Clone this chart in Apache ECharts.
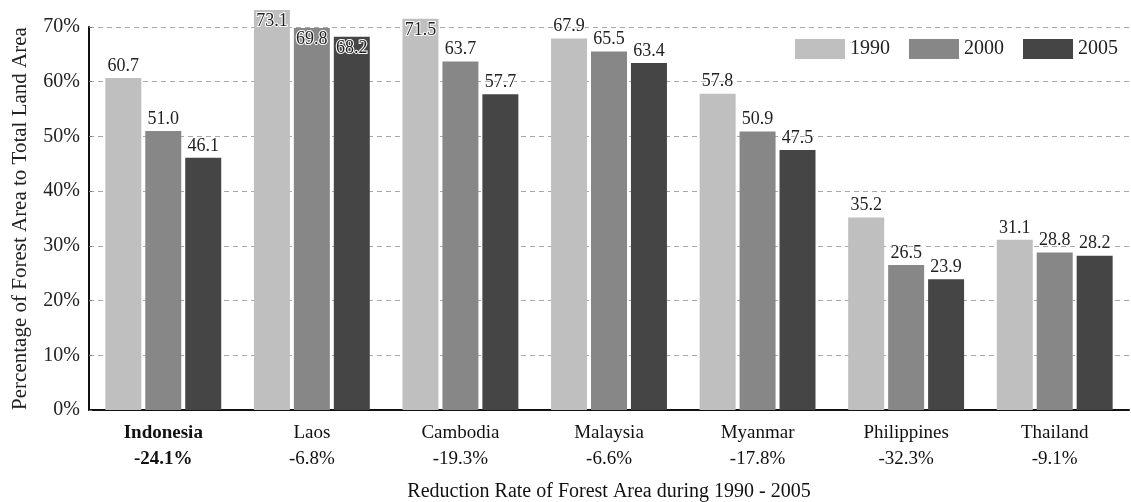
<!DOCTYPE html>
<html>
<head>
<meta charset="utf-8">
<script src="https://cdn.jsdelivr.net/npm/echarts@6/dist/echarts.min.js"></script>
<style>html,body{margin:0;padding:0;background:#fff;}#c{width:1131px;height:502px;}</style>
</head>
<body>
<div id="c"></div>
<script>
const countries = ['Indonesia','Laos','Cambodia','Malaysia','Myanmar','Philippines','Thailand'];
const reductions = ['-24.1%','-6.8%','-19.3%','-6.6%','-17.8%','-32.3%','-9.1%'];
const years = ['1990','2000','2005'];
const v1990 = [60.7,73.1,71.5,67.9,57.8,35.2,31.1];
const v2000 = [51.0,69.8,63.7,65.5,50.9,26.5,28.8];
const v2005 = [46.1,68.2,57.7,63.4,47.5,23.9,28.2];
const yTicks = [0,10,20,30,40,50,60,70];
const colors = ['#bfbfbf','#878787','#454545'];

const FONT = '"Liberation Serif","DejaVu Serif",serif';
const chart = echarts.init(document.getElementById('c'), null, {renderer:'canvas'});

function mk(vals){
  return vals.map(v => ({
    value: v,
    label: { position: v >= 68 ? 'insideTop' : 'top', distance: v >= 68 ? 2 : 3 }
  }));
}
const seriesVals = [v1990, v2000, v2005];

chart.setOption({
  animation: false,
  backgroundColor: '#fff',
  grid: { left: 89, right: 2, top: 27, bottom: 92, containLabel: false, outerBoundsMode: 'none' },
  legend: {
    right: 8, top: 34,
    icon: 'rect',
    itemWidth: 50, itemHeight: 20, itemGap: 19,
    textStyle: { fontFamily: FONT, fontSize: 20, color: '#222' },
    data: years
  },
  xAxis: {
    type: 'category',
    data: countries,
    axisLine: { lineStyle: { color: '#111', width: 2 } },
    axisTick: { inside: true, length: 6, lineStyle: { color: '#111', width: 1.5 } },
    axisLabel: {
      margin: 10,
      lineHeight: 26,
      fontFamily: FONT, fontSize: 19, color: '#111',
      formatter: function(v){
        const idx = countries.indexOf(v);
        if (idx === 0) return '{b|' + v + '}\n{b|' + reductions[idx] + '}';
        return v + '\n' + reductions[idx];
      },
      rich: { b: { fontWeight: 'bold', fontFamily: FONT, fontSize: 19, color: '#111', lineHeight: 26 } }
    },
    name: 'Reduction Rate of Forest Area during 1990 - 2005',
    nameLocation: 'middle',
    nameGap: 72,
    nameTextStyle: { fontFamily: FONT, fontSize: 20, color: '#111' }
  },
  yAxis: {
    type: 'value',
    min: yTicks[0], max: yTicks[yTicks.length-1], interval: 10,
    axisLine: { show: true, lineStyle: { color: '#111', width: 2 } },
    axisTick: { show: true, inside: true, length: 3, lineStyle: { color: '#777' } },
    axisLabel: { formatter: '{value}%', fontFamily: FONT, fontSize: 20, color: '#222', margin: 9 },
    splitLine: { lineStyle: { type: [5,4], color: '#a8a8a8', width: 1 } },
    name: 'Percentage of Forest Area to Total Land Area',
    nameLocation: 'middle',
    nameGap: 58,
    nameRotate: 90,
    nameTextStyle: { fontFamily: FONT, fontSize: 21, color: '#222' }
  },
  series: years.map((y, i) => ({
    name: y,
    type: 'bar',
    clip: false,
    barGap: '11%',
    barCategoryGap: '22%',
    itemStyle: { color: colors[i] },
    label: {
      show: true,
      formatter: p => p.value.toFixed(1),
      fontFamily: FONT, fontSize: 18, color: '#222',
      textBorderColor: '#fff', textBorderWidth: 2
    },
    data: mk(seriesVals[i])
  }))
});
</script>
</body>
</html>
